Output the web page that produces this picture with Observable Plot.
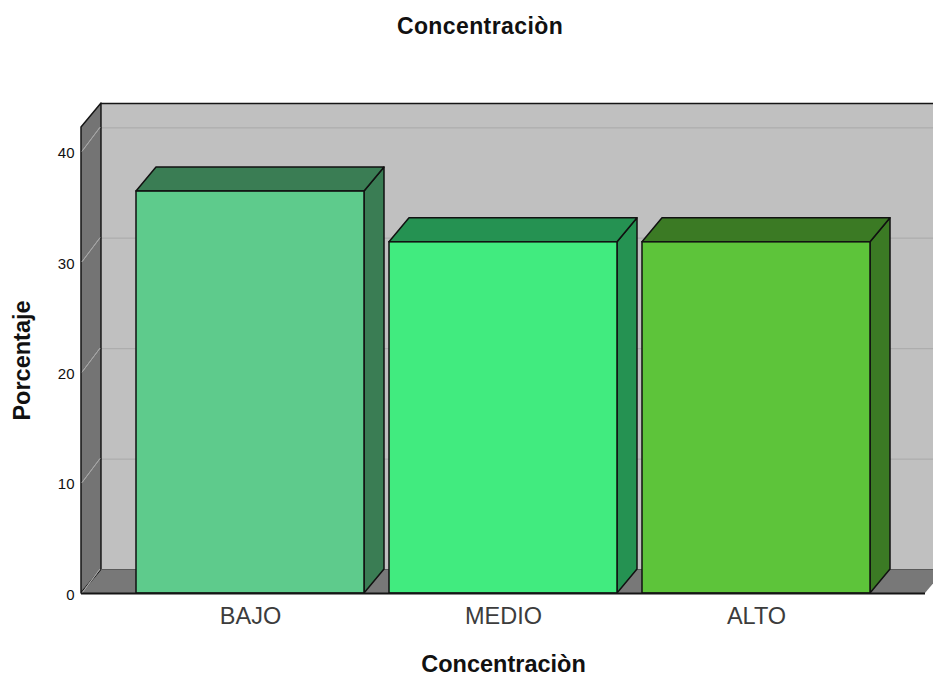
<!DOCTYPE html>
<html>
<head>
<meta charset="utf-8">
<script src="https://cdn.jsdelivr.net/npm/d3@7"></script>
<script src="https://cdn.jsdelivr.net/npm/@observablehq/plot@0.6"></script>
<style>
  html, body { margin: 0; padding: 0; background: #fff; overflow: hidden; }
  #title { height: 60px; box-sizing: border-box; padding-top: 13px; padding-left: 27px; text-align: center;
           font: bold 23px "Liberation Sans", Arial, sans-serif; letter-spacing: 0.4px; color: #111; line-height: 26px; }
  #chart svg { display: block; }
</style>
</head>
<body>
<div id="title"></div>
<div id="chart"></div>
<script>
const chartTitle = "Concentraciòn";
const xLabel = "Concentraciòn";
const yLabel = "Porcentaje";
const categories = ["BAJO", "MEDIO", "ALTO"];
const percentages = [36.4, 31.8, 31.8];
const frontColors = ["#5ECB8C", "#41EB7F", "#5DC43A"];
const darkColors = ["#3A7D54", "#259252", "#3B7A24"];
const yTicks = [0, 10, 20, 30, 40];
const depthX = 20, depthY = 24;

document.getElementById("title").textContent = chartTitle;

const rows = categories.map((c, i) => ({
  category: c, value: percentages[i], front: frontColors[i], dark: darkColors[i]
}));

function poly(pts, fill, stroke, sw) {
  const p = document.createElementNS("http://www.w3.org/2000/svg", "polygon");
  p.setAttribute("points", pts.map(d => d.join(",")).join(" "));
  p.setAttribute("fill", fill);
  p.setAttribute("stroke", stroke);
  p.setAttribute("stroke-width", sw);
  p.setAttribute("stroke-linejoin", "round");
  return p;
}
function group() {
  return document.createElementNS("http://www.w3.org/2000/svg", "g");
}

// floor and left wall of the 3D box
const walls = (index, scales, values, dim) => {
  const g = group();
  const L = dim.marginLeft, R = dim.width - dim.marginRight;
  const B = dim.height - dim.marginBottom, T = dim.marginTop;
  g.appendChild(poly([[L, B], [R, B], [R + depthX, B - depthY], [L + depthX, B - depthY]], "#787878", "none", 0));
  g.appendChild(poly([[L, T], [L + depthX, T - depthY], [L + depthX, B - depthY], [L, B]], "#747474", "#151515", 1.5));
  for (const t of yTicks) {
    const y = scales.y(t);
    g.appendChild(poly([[L + 1, y], [L + depthX - 1, y - depthY]], "none", "#a6a6a6", 1));
  }
  return g;
};

// side and top faces of each bar
const barDepth = (index, scales) => {
  const g = group();
  const w = scales.x.bandwidth();
  const y0 = scales.y(0);
  for (const r of rows) {
    const x0 = scales.x(r.category), x1 = x0 + w, y1 = scales.y(r.value);
    g.appendChild(poly([[x1, y1], [x1 + depthX, y1 - depthY], [x1 + depthX, y0 - depthY], [x1, y0]], r.dark, "#111", 1.5));
    g.appendChild(poly([[x0, y1], [x0 + depthX, y1 - depthY], [x1 + depthX, y1 - depthY], [x1, y1]], r.dark, "#111", 1.5));
  }
  return g;
};

const font = '"Liberation Sans", Arial, sans-serif';
const chart = Plot.plot({
  width: 933,
  height: 615,
  marginTop: 67,
  marginBottom: 82,
  marginLeft: 81,
  marginRight: 8,
  style: { fontFamily: font, background: "#fff" },
  x: { domain: categories, range: [136, 870], paddingInner: 0.0988, paddingOuter: 0, round: false, label: null },
  y: { domain: [0, 42.2], range: [533, 67], label: null },
  marks: [
    Plot.frame({ fill: "#c0c0c0", stroke: "none", dx: depthX, dy: -depthY }),
    Plot.ruleY(yTicks.filter(t => t > 0), { stroke: "#adadad", strokeWidth: 1.2, dx: depthX, dy: -depthY }),
    Plot.frame({ anchor: "top", stroke: "#151515", strokeWidth: 1.5, dx: depthX, dy: -depthY }),
    walls,
    Plot.ruleY([0], { stroke: "#5a5a5a", strokeWidth: 1.2, dx: depthX, dy: -depthY }),
    barDepth,
    Plot.barY(rows, { x: "category", y: "value", fill: "front", stroke: "#111", strokeWidth: 1.5 }),
    Plot.ruleY([0], { stroke: "#151515", strokeWidth: 1.8 }),
    Plot.axisY({ ticks: yTicks, tickSize: 0, tickPadding: 7, fontSize: 15, dy: 1.5, fill: "#111", label: null }),
    Plot.axisX({ tickSize: 0, tickPadding: 14, fontSize: 23.5, fill: "#3c3c3c", label: null }),
    Plot.text([xLabel], { frameAnchor: "bottom", dy: 78, fontSize: 23.5, fontWeight: "bold", fill: "#111" }),
    Plot.text([yLabel], { frameAnchor: "left", dx: -59, rotate: -90, textAnchor: "middle", fontSize: 23.5, fontWeight: "bold", fill: "#111" })
  ]
});
document.getElementById("chart").appendChild(chart);
</script>
</body>
</html>
